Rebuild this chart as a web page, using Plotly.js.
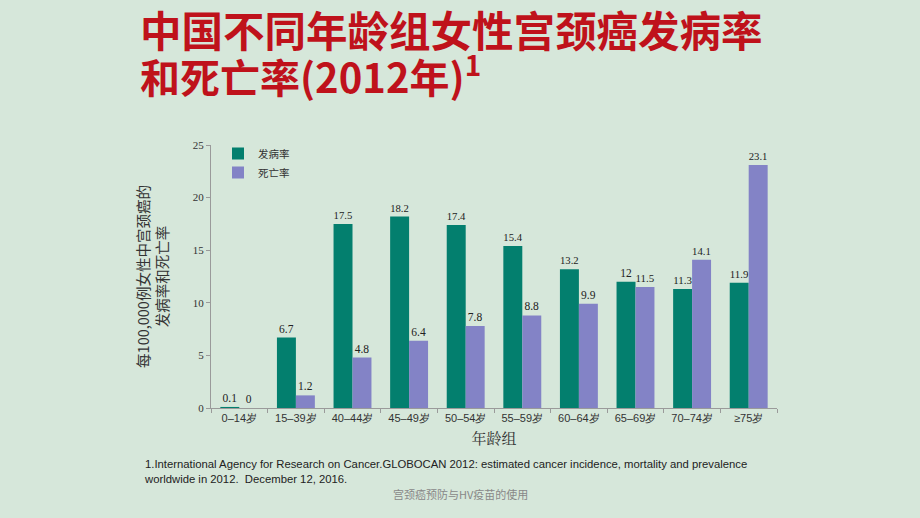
<!DOCTYPE html>
<html><head><meta charset="utf-8">
<script src="https://cdn.plot.ly/plotly-3.0.1.min.js"></script>
<style>html,body{margin:0;padding:0;background:#d6e7da;}#chart{width:920px;height:518px;}</style>
</head><body><div id="chart"></div>
<script>
var categories = ["0–14岁","15–39岁","40–44岁","45–49岁","50–54岁","55–59岁","60–64岁","65–69岁","70–74岁","≥75岁"];
var incidence = [0.1, 6.7, 17.5, 18.2, 17.4, 15.4, 13.2, 12, 11.3, 11.9];
var mortality = [0, 1.2, 4.8, 6.4, 7.8, 8.8, 9.9, 11.5, 14.1, 23.1];
var yTicks = [0, 5, 10, 15, 20, 25];

var L = 211, R = 777, T = 145, B = 408;
function px(x){ return (x - L) / (R - L); }
function py(y){ return (B - y) / (B - T); }

var labelFont = {family: "Liberation Serif, DejaVu Serif, serif", size: 11.5, color: "#222"};
var traces = [
  {type: "bar", name: "发病率", x: categories, y: incidence, marker: {color: "#037f6e"},
   text: incidence.map(String), textposition: "outside", textfont: labelFont, cliponaxis: false},
  {type: "bar", name: "死亡率", x: categories, y: mortality, marker: {color: "#8383c6"},
   text: mortality.map(String), textposition: "outside", textfont: labelFont, cliponaxis: false}
];

var layout = {
  width: 920, height: 518,
  margin: {l: L, r: 920 - R, t: T, b: 518 - B},
  paper_bgcolor: "#d6e7da", plot_bgcolor: "rgba(0,0,0,0)",
  barmode: "group", bargap: 0.33, bargroupgap: 0,
  showlegend: true,
  legend: {x: px(218), y: py(139), xanchor: "left", yanchor: "top", bgcolor: "rgba(0,0,0,0)",
           font: {family: "Noto Sans CJK SC, sans-serif", size: 10.5, color: "#333"},
           itemwidth: 30, tracegroupgap: 0},
  xaxis: {type: "category", showline: true, linecolor: "#9a9a9a", linewidth: 1,
          ticks: "outside", tickson: "boundaries", ticklen: 4, tickcolor: "#9a9a9a",
          tickfont: {family: "Liberation Sans, Arial, sans-serif", size: 11, color: "#333"},
          title: {text: "年龄组", font: {family: "Noto Serif CJK SC, Noto Sans CJK SC, serif", size: 15, color: "#333"}, standoff: 10},
          showgrid: false, zeroline: false},
  yaxis: {range: [0, 25], tickvals: yTicks, showline: true, linecolor: "#9a9a9a", linewidth: 1,
          ticks: "outside", ticklen: 4, tickcolor: "#9a9a9a", showgrid: false, zeroline: false,
          tickfont: {family: "Liberation Serif, DejaVu Serif, serif", size: 11, color: "#333"},
          title: {text: "每100,000例女性中宫颈癌的<br>发病率和死亡率",
                  font: {family: "Noto Sans CJK SC, sans-serif", size: 14.5, color: "#333"}, standoff: 20}},
  annotations: [
    {text: "<b>中国不同年龄组女性宫颈癌发病率</b>", xref: "paper", yref: "paper", x: px(138), y: py(29),
     xanchor: "left", yanchor: "middle", showarrow: false,
     font: {family: "Noto Sans CJK SC, sans-serif", size: 41.5, color: "#bf121b"}},
    {text: "<b>和死亡率(2012年)</b><sup><b>1</b></sup>", xref: "paper", yref: "paper", x: px(138), y: py(74),
     xanchor: "left", yanchor: "middle", showarrow: false,
     font: {family: "Noto Sans CJK SC, sans-serif", size: 40, color: "#bf121b"}},
    {text: "1.International Agency for Research on Cancer.GLOBOCAN 2012: estimated cancer incidence, mortality and prevalence<br>worldwide in 2012.  December 12, 2016.",
     xref: "paper", yref: "paper", x: px(142), y: py(456), xanchor: "left", yanchor: "top", align: "left",
     showarrow: false, font: {family: "Liberation Sans Narrow, Liberation Sans, sans-serif", size: 11.3, color: "#222"}},
    {text: "宫颈癌预防与HV疫苗的使用", xref: "paper", yref: "paper", x: px(460), y: py(494),
     xanchor: "center", yanchor: "middle", showarrow: false,
     font: {family: "Noto Sans CJK SC, sans-serif", size: 11, color: "#888"}}
  ]
};
Plotly.newPlot("chart", traces, layout, {displayModeBar: false, staticPlot: true});
</script></body></html>
